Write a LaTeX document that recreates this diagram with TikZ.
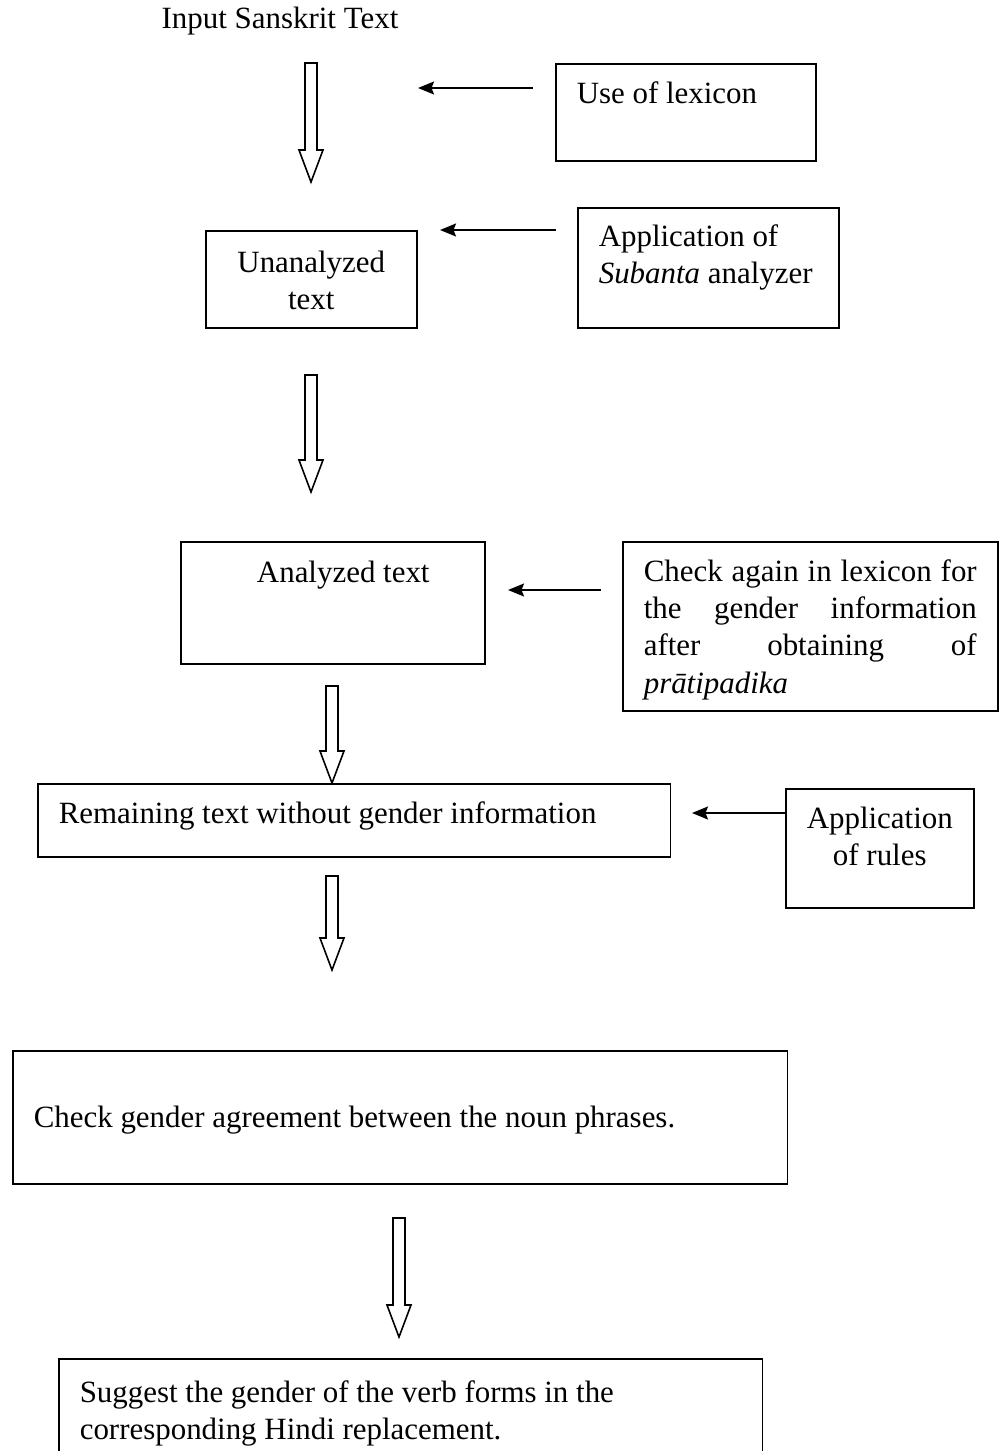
\documentclass[tikz,border=0pt]{standalone}
\usepackage{fontspec}
\setmainfont{Liberation Serif}
\usetikzlibrary{arrows.meta, calc}

\hyphenpenalty=10000
\tolerance=10000

% hollow block arrow pointing down, from #1 to the tip #2
\newcommand{\hollowarrow}[2]{%
    \draw[hollow] ($(#1)+(-6,0)$) -- ($(#2)+(-6,-32)$) -- ($(#2)+(-12,-32)$) -- (#2)
        -- ($(#2)+(12,-32)$) -- ($(#2)+(6,-32)$) -- ($(#1)+(6,0)$) -- cycle;}

\begin{document}
\begin{tikzpicture}[
            x = 0.02cm, y = -0.02cm, % one unit is one pixel of the page
            font = \fontsize{17.6}{21.1}\selectfont,
            line width = 0.9pt
        ]

        \tikzset{
            box/.style = {draw, inner ysep = 0pt, inner xsep = 0.42cm,
                align = flush left, anchor = north west},
            cbox/.style = {box, inner xsep = 0pt, align = flush center},
            feed/.style = {-{Stealth[length = 0.32cm, width = 0.26cm, inset = 0.05cm]}},
            hollow/.style = {line join = miter}
        }

        \useasboundingbox (0,0) rectangle (1003,1451);

        % main column
        \node[anchor = base] (inp) at (280,28) {Input Sanskrit Text};
        \node[cbox, text width = 4.22cm, text height = 0.84cm, text depth = 1.1cm]
            (unan) at (205,230) {Unanalyzed\\text};
        \node[cbox, text width = 6.08cm, text height = 0.82cm, text depth = 1.62cm]
            (an) at (180,541) {\hspace*{0.42cm}Analyzed text};
        \node[box, text width = 11.82cm, text height = 0.8cm, text depth = 0.66cm]
            (rem) at (37,783) {Remaining text without gender information};
        \node[box, text width = 14.66cm, text height = 1.54cm, text depth = 1.12cm]
            (agr) at (12,1050) {Check gender agreement between the noun phrases.};
        \node[box, text width = 13.24cm, text height = 0.88cm, text depth = 1.6cm]
            (sug) at (58,1358) {Suggest the gender of the verb forms in the\\corresponding Hindi replacement.};

        % side boxes
        \node[box, text width = 4.36cm, text height = 0.8cm, text depth = 1.14cm]
            (lex) at (555,63) {Use of lexicon};
        \node[box, text width = 4.38cm, text height = 0.78cm, text depth = 1.62cm]
            (sub) at (577,207) {Application of\\\textit{Subanta} analyzer};
        \node[box, align = justify, text width = 6.66cm, text height = 0.8cm, text depth = 2.58cm]
            (chk) at (622,541) {Check again in lexicon for\linebreak the gender information\linebreak after obtaining of\linebreak \textit{prātipadika}};
        \node[cbox, text width = 3.76cm, text height = 0.8cm, text depth = 1.58cm]
            (rul) at (785,788) {Application\\of rules};

        % hollow arrows
        \coordinate (h1s) at (311,63);   \coordinate (h1e) at (311,182);
        \coordinate (h2s) at (311,375);  \coordinate (h2e) at (311,492);
        \coordinate (h3s) at (332,686);  \coordinate (h3e) at (332,783);
        \coordinate (h4s) at (332,876);  \coordinate (h4e) at (332,970);
        \coordinate (h5s) at (399,1218); \coordinate (h5e) at (399,1337);

        \hollowarrow{h1s}{h1e}
        \hollowarrow{h2s}{h2e}
        \hollowarrow{h3s}{h3e}
        \hollowarrow{h4s}{h4e}
        \hollowarrow{h5s}{h5e}

        % feeds from the side boxes
        \draw[feed] ([xshift = -0.44cm, yshift = -0.5cm]lex.north west) -- ++(-2.3cm,0);
        \draw[feed] ([xshift = -0.42cm, yshift = -0.46cm]sub.north west) -- ++(-2.32cm,0);
        \draw[feed] ([xshift = -0.42cm, yshift = -0.98cm]chk.north west) -- ++(-1.86cm,0);
        \draw[feed] ([yshift = -0.5cm]rul.north west) -- ++(-1.86cm,0);

\end{tikzpicture}
\end{document}
